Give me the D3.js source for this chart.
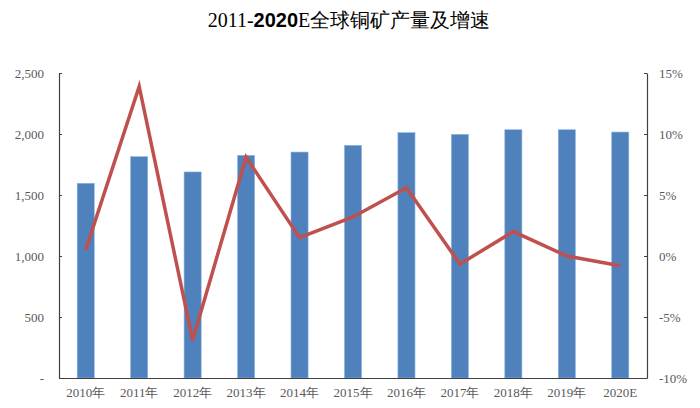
<!DOCTYPE html>
<html><head><meta charset="utf-8">
<script src="https://cdn.jsdelivr.net/npm/d3@7"></script>
<style>body{margin:0;background:#fff}svg{display:block}</style>
</head><body>
<svg id="c" width="700" height="408"></svg>
<script>
const categories = ["2010年","2011年","2012年","2013年","2014年","2015年","2016年","2017年","2018年","2019年","2020E"];
const production = [1596,1814,1689,1825,1852,1907,2011,1997,2035,2035,2016];
const growth = [0.5,13.9,-6.9,8.1,1.5,3.2,5.6,-0.66,2.0,0.0,-0.8];
const leftTicks = [0,500,1000,1500,2000,2500];
const rightTicks = [-10,-5,0,5,10,15];

const svg = d3.select("#c");
const L = 59, R = 647, T = 73, B = 378;
const serif = "'Liberation Serif','Times New Roman',serif";
const txtColor = "#595959";

const x = d3.scaleBand().domain(categories).range([L, R]).paddingInner(0.68).paddingOuter(0.34);
const yL = d3.scaleLinear().domain([0, 2500]).range([B, T]);
const yR = d3.scaleLinear().domain([-10, 15]).range([B, T]);

// bars
svg.append("g").selectAll("rect").data(production).join("rect")
  .attr("x", (d,i) => x(categories[i]))
  .attr("width", x.bandwidth())
  .attr("y", d => yL(d))
  .attr("height", d => B - yL(d))
  .attr("fill", "#4F81BD")
  .attr("stroke", "#8db3e2").attr("stroke-width", 0.6);

// line
const line = d3.line().x((d,i) => x(categories[i]) + x.bandwidth()/2).y(d => yR(d));
svg.append("path").datum(growth).attr("d", line)
  .attr("fill", "none").attr("stroke", "#C0504D").attr("stroke-width", 3.5)
  .attr("stroke-linejoin", "miter");

// left axis
const axL = svg.append("g").attr("transform", `translate(${L},0)`)
  .call(d3.axisLeft(yL).tickValues(leftTicks).tickSizeInner(-3).tickSizeOuter(0)
    .tickFormat(d => d === 0 ? "-" : d3.format(",")(d)));
axL.select(".domain").attr("stroke", "#404040").attr("stroke-width", 1.2);
axL.selectAll(".tick line").attr("stroke", "#404040");
axL.selectAll(".tick text").attr("x", -15).attr("fill", txtColor)
  .style("font-family", serif).style("font-size", "13px");

// right axis
const axR = svg.append("g").attr("transform", `translate(${R},0)`)
  .call(d3.axisRight(yR).tickValues(rightTicks).tickSizeInner(-3).tickSizeOuter(0)
    .tickFormat(d => d + "%"));
axR.select(".domain").attr("stroke", "#404040").attr("stroke-width", 1.2);
axR.selectAll(".tick line").attr("stroke", "#404040");
axR.selectAll(".tick text").attr("x", 12).attr("fill", txtColor)
  .style("font-family", serif).style("font-size", "13px");

// bottom axis
const axB = svg.append("g").attr("transform", `translate(0,${B})`)
  .call(d3.axisBottom(x).tickSize(0).tickSizeOuter(0));
axB.select(".domain").attr("stroke", "#404040").attr("stroke-width", 1.2);
axB.selectAll(".tick text").attr("y", 10).attr("fill", txtColor)
  .style("font-family", serif).style("font-size", "13px");

// title
const title = svg.append("text").attr("x", 349).attr("y", 27).attr("text-anchor", "middle")
  .style("font-family", serif).style("font-size", "20px").attr("fill", "#000");
title.append("tspan").text("2011-");
title.append("tspan").text("2020").style("font-family", "'Liberation Sans',Arial,sans-serif").style("font-weight", "bold");
title.append("tspan").text("E全球铜矿产量及增速");
</script>
</body></html>
